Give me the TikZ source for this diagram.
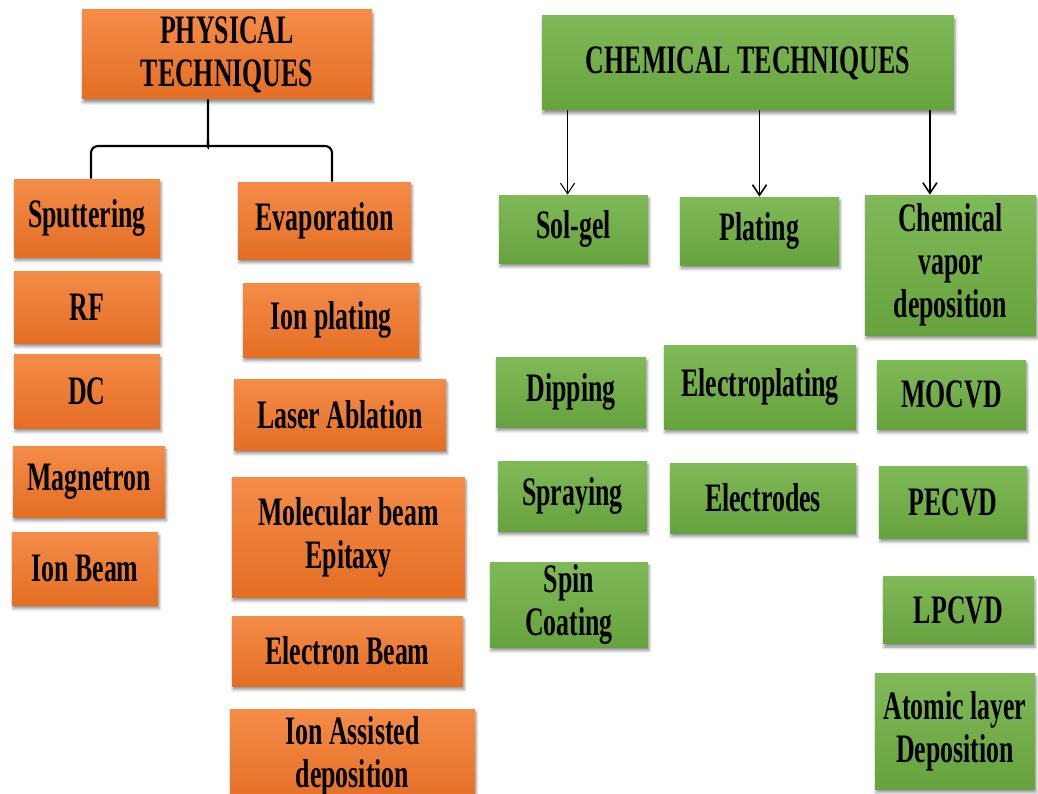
\documentclass[tikz,border=0pt]{standalone}
\usepackage{fontspec}
\usepackage{tikz}
\usetikzlibrary{calc, positioning, arrows.meta, shadows.blur}
\newfontfamily\boxfont[FakeStretch=0.64]{Liberation Serif}
\definecolor{orgtop}{RGB}{244,140,72}
\definecolor{orgbot}{RGB}{228,110,36}
\definecolor{grntop}{RGB}{128,186,88}
\definecolor{grnbot}{RGB}{102,162,62}

\begin{document}
\begin{tikzpicture}[x=0.02cm, y=-0.02cm,
  box/.style={inner sep=1pt, align=center, font=\boxfont\bfseries\fontsize{23}{24.4}\selectfont,
    blur shadow={shadow xshift=0.6pt, shadow yshift=-2pt, shadow blur steps=4, shadow opacity=45}},
  pbox/.style={box, top color=orgtop, bottom color=orgbot},
  gbox/.style={box, top color=grntop, bottom color=grnbot},
  sz/.style 2 args={minimum width=#1*0.02cm, minimum height=#2*0.02cm},
  brace/.style={line width=1.2pt},
  arr/.style={-{Straight Barb[length=6pt,width=8pt]}, line width=0.9pt}]
\useasboundingbox (0,0) rectangle (1038,794);

% physical side
\node[pbox, sz={290}{89}] (phys) at (227,54.5) {PHYSICAL\\TECHNIQUES};
\node[pbox, sz={146}{78}] (sput) at (87,218) {Sputtering};
\node[pbox, sz={146}{72}] (rf) at (87,307) {RF};
\node[pbox, sz={146}{74}] (dc) at (87,391) {DC};
\node[pbox, sz={152}{71}] (magn) at (89,481.5) {Magnetron};
\node[pbox, sz={146}{73}] (ionb) at (85,568.5) {Ion Beam};
\node[pbox, sz={173}{77}] (evap) at (324.5,220.5) {Evaporation};
\node[pbox, sz={176}{74}] (ionp) at (331,320) {Ion plating};
\node[pbox, sz={212}{71}] (laser) at (340,414.5) {Laser Ablation};
\node[pbox, sz={233}{120}] (mbe) at (348.5,537) {Molecular beam\\Epitaxy};
\node[pbox, sz={231}{70}] (ebeam) at (347.5,651) {Electron Beam};
\node[pbox, sz={245}{95}] (iad) at (352.5,756.5) {Ion Assisted\\deposition};

\coordinate (bj) at (208,146);
\draw[brace, rounded corners=4pt] (bj |- phys.south) -- ($(bj)+(0,-6)$)
  .. controls (bj) .. ($(bj)+(-8,0)$) -| ([xshift=0.08cm]sput.north);
\draw[brace, rounded corners=4pt] ($(bj)+(0,-6)$)
  .. controls (bj) .. ($(bj)+(8,0)$) -| ([xshift=0.15cm]evap.north);

% chemical side
\node[gbox, sz={412}{94}] (chem) at (748,63) {CHEMICAL TECHNIQUES};
\node[gbox, sz={149}{68}] (solgel) at (573.5,229) {Sol-gel};
\node[gbox, sz={159}{68}] (plating) at (759.5,231) {Plating};
\node[gbox, sz={171}{140}] (cvd) at (950.5,265) {Chemical\\vapor\\deposition};
\node[gbox, sz={150}{70}] (dip) at (571,392) {Dipping};
\node[gbox, sz={149}{70}] (spray) at (572.5,496) {Spraying};
\node[gbox, sz={158}{85}] (spin) at (569,604.5) {Spin\\Coating};
\node[gbox, sz={192}{84}] (eplat) at (760,387) {Electroplating};
\node[gbox, sz={186}{70}] (electr) at (763,498) {Electrodes};
\node[gbox, sz={149}{69}] (mocvd) at (951.5,394.5) {MOCVD};
\node[gbox, sz={148}{72}] (pecvd) at (953,502) {PECVD};
\node[gbox, sz={151}{67}] (lpcvd) at (958.5,610) {LPCVD};
\node[gbox, sz={160}{116}] (ald) at (955,731) {Atomic layer\\Deposition};

\path ($(solgel.north west)!0.46!(solgel.north east)$) coordinate (a1)
      (plating.north) coordinate (a2)
      ($(cvd.north west)!0.38!(cvd.north east)$) coordinate (a3);
\draw[arr, line width=0.6pt] (a1 |- chem.south) -- (a1);
\draw[arr] (a2 |- chem.south) -- (a2);
\draw[arr] (a3 |- chem.south) -- (a3);
\end{tikzpicture}
\end{document}
